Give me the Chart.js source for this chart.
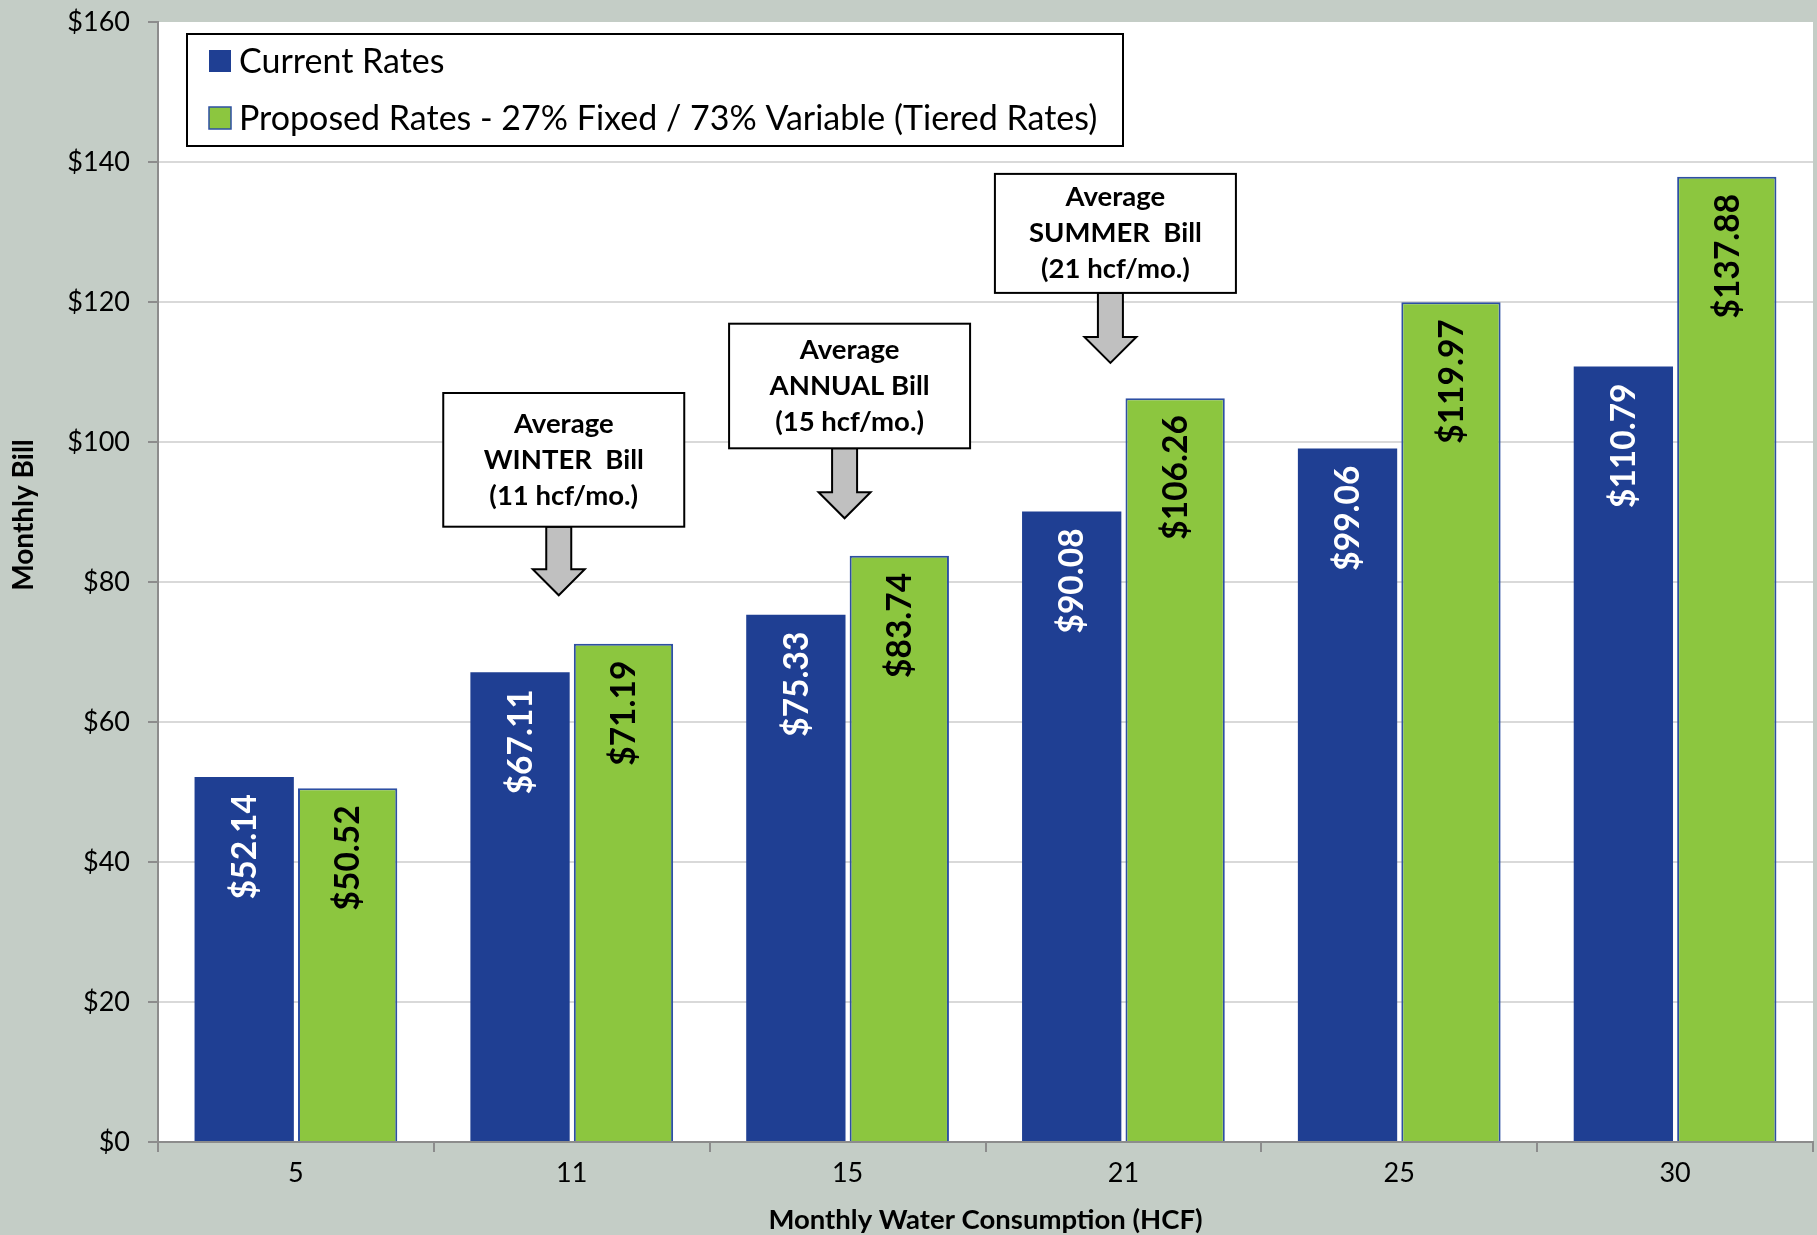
<!DOCTYPE html>
<html>
<head>
<meta charset="utf-8">
<title>Monthly Bill Comparison</title>
<script src="https://cdn.jsdelivr.net/npm/chart.js@4.4.1/dist/chart.umd.min.js"></script>
<style>
  html, body { margin: 0; padding: 0; background: #c4cdc6; }
  canvas { display: block; }
</style>
</head>
<body>
<canvas id="billChart" width="1817" height="1235"></canvas>
<script>
// monthly water use (hcf) and bill amounts
const hcf = ['5', '11', '15', '21', '25', '30']
const currentRates = [52.14, 67.11, 75.33, 90.08, 99.06, 110.79]
const proposedRates = [50.52, 71.19, 83.74, 106.26, 119.97, 137.88]
const seriesNames = ['Current Rates', 'Proposed Rates - 27% Fixed / 73% Variable (Tiered Rates)']
const yMax = 160
const yStep = 20

// callout text for the typical bills
const calloutCats = ['11', '15', '21']
const calloutText = [
    ['Average', 'WINTER  Bill', '(11 hcf/mo.)'],
    ['Average', 'ANNUAL Bill', '(15 hcf/mo.)'],
    ['Average', 'SUMMER  Bill', '(21 hcf/mo.)']
]
// box top / box bottom / arrow tip in dollars, shift from category centre in px
const calloutPlace = [
    {top: 107, bottom: 87.9, tip: 78.1, dx: -8},
    {top: 116.9, bottom: 99.1, tip: 89.1, dx: 2},
    {top: 138.3, bottom: 121.3, tip: 111.3, dx: -8}
]

const BLUE = '#1f3f93'
const GREEN = '#8cc63f'
const BG = '#c4cdc6'
const FONT = 'Lato, "Open Sans", sans-serif'

const money = v => '$' + v.toFixed(2)

let backdrop = {
    id: 'backdrop',
    beforeDraw(chart) {
        let c = chart.ctx, a = chart.chartArea
        c.save()
        c.fillStyle = BG
        c.fillRect(0, 0, chart.width, chart.height)
        c.fillStyle = '#ffffff'
        c.fillRect(a.left, a.top, a.right - a.left, a.bottom - a.top)
        c.restore()
    }
}

let barLabels = {
    id: 'barLabels',
    afterDatasetsDraw(chart) {
        let c = chart.ctx
        chart.data.datasets.forEach((ds, i) => {
            let meta = chart.getDatasetMeta(i)
            meta.data.forEach((bar, j) => {
                c.save()
                c.translate(bar.x + 1, bar.y + 17)
                c.rotate(-Math.PI / 2)
                c.font = 'bold 33.5px ' + FONT
                c.fillStyle = i == 0 ? '#ffffff' : '#000000'
                c.textAlign = 'right'
                c.textBaseline = 'middle'
                c.fillText(money(ds.data[j]), 0, 0)
                c.restore()
            })
        })
    }
}

let callouts = {
    id: 'callouts',
    afterDatasetsDraw(chart) {
        let c = chart.ctx
        let x = chart.scales.x, y = chart.scales.y
        calloutCats.forEach((cat, i) => {
            let p = calloutPlace[i]
            let cx = x.getPixelForValue(hcf.indexOf(cat)) + p.dx
            let top = y.getPixelForValue(p.top)
            let bottom = y.getPixelForValue(p.bottom)
            let tip = y.getPixelForValue(p.tip)
            let ax = cx - 5
            // arrow
            c.save()
            c.beginPath()
            c.moveTo(ax - 12.5, bottom)
            c.lineTo(ax + 12.5, bottom)
            c.lineTo(ax + 12.5, tip - 26)
            c.lineTo(ax + 26, tip - 26)
            c.lineTo(ax, tip)
            c.lineTo(ax - 26, tip - 26)
            c.lineTo(ax - 12.5, tip - 26)
            c.closePath()
            c.fillStyle = '#c0c0c0'
            c.fill()
            c.lineWidth = 2
            c.strokeStyle = '#000000'
            c.stroke()
            // box
            let w = 241
            c.fillStyle = '#ffffff'
            c.fillRect(cx - w / 2, top, w, bottom - top)
            c.strokeRect(cx - w / 2, top, w, bottom - top)
            c.fillStyle = '#000000'
            c.font = 'bold 27.5px ' + FONT
            c.textAlign = 'center'
            c.textBaseline = 'middle'
            let mid = (top + bottom) / 2
            calloutText[i].forEach((line, k) => {
                c.fillText(line, cx, mid + (k - 1) * 36)
            })
            c.restore()
        })
    }
}

let boxLegend = {
    id: 'boxLegend',
    afterDraw(chart) {
        let c = chart.ctx, a = chart.chartArea
        let left = a.left + 29, top = a.top + 12
        c.save()
        c.fillStyle = '#ffffff'
        c.fillRect(left, top, 936, 112)
        c.lineWidth = 2
        c.strokeStyle = '#000000'
        c.strokeRect(left, top, 936, 112)
        chart.data.datasets.forEach((ds, i) => {
            let cy = top + 27 + i * 57
            c.fillStyle = ds.backgroundColor
            c.fillRect(left + 22, cy - 11, 22, 22)
            if (i == 1) {
                c.lineWidth = 1.5
                c.strokeStyle = ds.borderColor
                c.strokeRect(left + 22, cy - 11, 22, 22)
            }
            c.fillStyle = '#000000'
            c.font = '34px ' + FONT
            c.textAlign = 'left'
            c.textBaseline = 'middle'
            c.fillText(ds.label, left + 52, cy + 1)
        })
        c.restore()
    }
}

let axisTitles = {
    id: 'axisTitles',
    afterDraw(chart) {
        let c = chart.ctx, a = chart.chartArea
        c.save()
        c.fillStyle = '#000000'
        c.font = 'bold 27.5px ' + FONT
        c.textAlign = 'center'
        c.textBaseline = 'middle'
        c.fillText('Monthly Water Consumption (HCF)', (a.left + a.right) / 2, 1220)
        c.translate(24, 515)
        c.rotate(-Math.PI / 2)
        c.font = 'bold 28px ' + FONT
        c.fillText('Monthly Bill', 0, 0)
        c.restore()
    }
}

const ctx = document.getElementById('billChart').getContext('2d')
let obj = {
    type: 'bar',
    data: {
        labels: hcf,
        datasets: [
            {
                label: seriesNames[0],
                data: currentRates,
                backgroundColor: BLUE,
                borderColor: BLUE,
                borderWidth: 0,
                categoryPercentage: 0.75,
                barPercentage: 0.96
            },
            {
                label: seriesNames[1],
                data: proposedRates,
                backgroundColor: GREEN,
                borderColor: '#2d4fa3',
                borderWidth: 2,
                categoryPercentage: 0.75,
                barPercentage: 0.96
            }
        ]
    },
    options: {
        responsive: false,
        animation: false,
        devicePixelRatio: 1,
        layout: { padding: { top: 22, right: 4, left: 0, bottom: 0 } },
        plugins: {
            legend: { display: false },
            tooltip: { enabled: false }
        },
        scales: {
            x: {
                afterFit: s => { s.height = 93 },
                grid: {
                    offset: true,
                    drawOnChartArea: false,
                    tickLength: 10,
                    color: '#8c8c8c',
                    lineWidth: 2
                },
                border: { color: '#8c8c8c', width: 2 },
                ticks: {
                    color: '#000000',
                    padding: 5,
                    font: { family: FONT, size: 27 }
                }
            },
            y: {
                min: 0,
                max: yMax,
                afterFit: s => {
                    s.width = 158
                    s.paddingTop = 0
                    s.paddingBottom = 0
                },
                grid: {
                    color: c => c.tick && c.tick.value == yMax ? 'rgba(0,0,0,0)' : '#d9d9d9',
                    lineWidth: 2,
                    tickColor: '#8c8c8c',
                    tickLength: 10
                },
                border: { color: '#8c8c8c', width: 2 },
                ticks: {
                    stepSize: yStep,
                    color: '#000000',
                    padding: 18,
                    font: { family: FONT, size: 27 },
                    callback: v => '$' + v
                }
            }
        }
    },
    plugins: [backdrop, barLabels, callouts, boxLegend, axisTitles]
}
let myChart = new Chart(ctx, obj)
</script>
</body>
</html>
